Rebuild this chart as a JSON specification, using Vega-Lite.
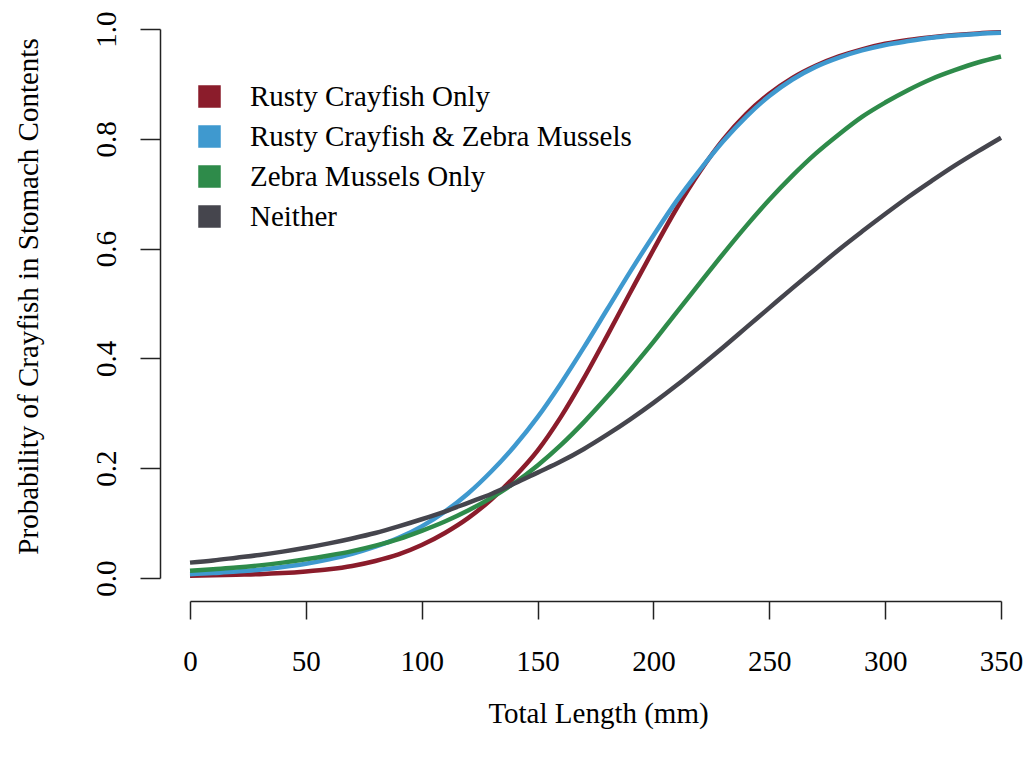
{
  "$schema": "https://vega.github.io/schema/vega-lite/v6.json",
  "autosize": "none",
  "width": 811,
  "height": 549,
  "padding": {"left": 190, "top": 29, "right": 30, "bottom": 179},
  "background": "white",
  "config": {
    "font": "Liberation Serif",
    "view": {"stroke": null},
    "axis": {"grid": false, "labelFont": "Liberation Serif", "titleFont": "Liberation Serif", "labelColor": "black", "titleColor": "black", "titleFontWeight": "normal", "domainColor": "#222", "tickColor": "#222", "domainWidth": 1.5, "tickWidth": 1.5}
  },
  "datasets": {
    "curves": [
      {"mm":0,"g":"Rusty Crayfish Only","p":0.004},{"mm":10,"g":"Rusty Crayfish Only","p":0.005},{"mm":20,"g":"Rusty Crayfish Only","p":0.006},{"mm":30,"g":"Rusty Crayfish Only","p":0.007},{"mm":40,"g":"Rusty Crayfish Only","p":0.009},{"mm":50,"g":"Rusty Crayfish Only","p":0.012},{"mm":60,"g":"Rusty Crayfish Only","p":0.016},{"mm":70,"g":"Rusty Crayfish Only","p":0.022},{"mm":80,"g":"Rusty Crayfish Only","p":0.031},{"mm":90,"g":"Rusty Crayfish Only","p":0.043},{"mm":100,"g":"Rusty Crayfish Only","p":0.060},{"mm":110,"g":"Rusty Crayfish Only","p":0.082},{"mm":120,"g":"Rusty Crayfish Only","p":0.109},{"mm":130,"g":"Rusty Crayfish Only","p":0.143},{"mm":140,"g":"Rusty Crayfish Only","p":0.184},{"mm":150,"g":"Rusty Crayfish Only","p":0.232},{"mm":160,"g":"Rusty Crayfish Only","p":0.293},{"mm":170,"g":"Rusty Crayfish Only","p":0.364},{"mm":180,"g":"Rusty Crayfish Only","p":0.441},{"mm":190,"g":"Rusty Crayfish Only","p":0.520},{"mm":200,"g":"Rusty Crayfish Only","p":0.598},{"mm":210,"g":"Rusty Crayfish Only","p":0.673},{"mm":220,"g":"Rusty Crayfish Only","p":0.740},{"mm":230,"g":"Rusty Crayfish Only","p":0.798},{"mm":240,"g":"Rusty Crayfish Only","p":0.845},{"mm":250,"g":"Rusty Crayfish Only","p":0.882},{"mm":260,"g":"Rusty Crayfish Only","p":0.911},{"mm":270,"g":"Rusty Crayfish Only","p":0.933},{"mm":280,"g":"Rusty Crayfish Only","p":0.950},{"mm":290,"g":"Rusty Crayfish Only","p":0.963},{"mm":300,"g":"Rusty Crayfish Only","p":0.973},{"mm":310,"g":"Rusty Crayfish Only","p":0.980},{"mm":320,"g":"Rusty Crayfish Only","p":0.985},{"mm":330,"g":"Rusty Crayfish Only","p":0.989},{"mm":340,"g":"Rusty Crayfish Only","p":0.992},{"mm":350,"g":"Rusty Crayfish Only","p":0.994},
      {"mm":0,"g":"Rusty Crayfish & Zebra Mussels","p":0.007},{"mm":10,"g":"Rusty Crayfish & Zebra Mussels","p":0.009},{"mm":20,"g":"Rusty Crayfish & Zebra Mussels","p":0.012},{"mm":30,"g":"Rusty Crayfish & Zebra Mussels","p":0.015},{"mm":40,"g":"Rusty Crayfish & Zebra Mussels","p":0.020},{"mm":50,"g":"Rusty Crayfish & Zebra Mussels","p":0.026},{"mm":60,"g":"Rusty Crayfish & Zebra Mussels","p":0.034},{"mm":70,"g":"Rusty Crayfish & Zebra Mussels","p":0.044},{"mm":80,"g":"Rusty Crayfish & Zebra Mussels","p":0.057},{"mm":90,"g":"Rusty Crayfish & Zebra Mussels","p":0.073},{"mm":100,"g":"Rusty Crayfish & Zebra Mussels","p":0.094},{"mm":110,"g":"Rusty Crayfish & Zebra Mussels","p":0.121},{"mm":120,"g":"Rusty Crayfish & Zebra Mussels","p":0.154},{"mm":130,"g":"Rusty Crayfish & Zebra Mussels","p":0.194},{"mm":140,"g":"Rusty Crayfish & Zebra Mussels","p":0.240},{"mm":150,"g":"Rusty Crayfish & Zebra Mussels","p":0.293},{"mm":160,"g":"Rusty Crayfish & Zebra Mussels","p":0.354},{"mm":170,"g":"Rusty Crayfish & Zebra Mussels","p":0.420},{"mm":180,"g":"Rusty Crayfish & Zebra Mussels","p":0.489},{"mm":190,"g":"Rusty Crayfish & Zebra Mussels","p":0.558},{"mm":200,"g":"Rusty Crayfish & Zebra Mussels","p":0.624},{"mm":210,"g":"Rusty Crayfish & Zebra Mussels","p":0.687},{"mm":220,"g":"Rusty Crayfish & Zebra Mussels","p":0.743},{"mm":230,"g":"Rusty Crayfish & Zebra Mussels","p":0.795},{"mm":240,"g":"Rusty Crayfish & Zebra Mussels","p":0.840},{"mm":250,"g":"Rusty Crayfish & Zebra Mussels","p":0.878},{"mm":260,"g":"Rusty Crayfish & Zebra Mussels","p":0.908},{"mm":270,"g":"Rusty Crayfish & Zebra Mussels","p":0.931},{"mm":280,"g":"Rusty Crayfish & Zebra Mussels","p":0.948},{"mm":290,"g":"Rusty Crayfish & Zebra Mussels","p":0.961},{"mm":300,"g":"Rusty Crayfish & Zebra Mussels","p":0.971},{"mm":310,"g":"Rusty Crayfish & Zebra Mussels","p":0.978},{"mm":320,"g":"Rusty Crayfish & Zebra Mussels","p":0.984},{"mm":330,"g":"Rusty Crayfish & Zebra Mussels","p":0.988},{"mm":340,"g":"Rusty Crayfish & Zebra Mussels","p":0.991},{"mm":350,"g":"Rusty Crayfish & Zebra Mussels","p":0.993},
      {"mm":0,"g":"Zebra Mussels Only","p":0.013},{"mm":10,"g":"Zebra Mussels Only","p":0.016},{"mm":20,"g":"Zebra Mussels Only","p":0.019},{"mm":30,"g":"Zebra Mussels Only","p":0.023},{"mm":40,"g":"Zebra Mussels Only","p":0.028},{"mm":50,"g":"Zebra Mussels Only","p":0.034},{"mm":60,"g":"Zebra Mussels Only","p":0.041},{"mm":70,"g":"Zebra Mussels Only","p":0.049},{"mm":80,"g":"Zebra Mussels Only","p":0.059},{"mm":90,"g":"Zebra Mussels Only","p":0.071},{"mm":100,"g":"Zebra Mussels Only","p":0.086},{"mm":110,"g":"Zebra Mussels Only","p":0.103},{"mm":120,"g":"Zebra Mussels Only","p":0.123},{"mm":130,"g":"Zebra Mussels Only","p":0.146},{"mm":140,"g":"Zebra Mussels Only","p":0.173},{"mm":150,"g":"Zebra Mussels Only","p":0.205},{"mm":160,"g":"Zebra Mussels Only","p":0.242},{"mm":170,"g":"Zebra Mussels Only","p":0.284},{"mm":180,"g":"Zebra Mussels Only","p":0.330},{"mm":190,"g":"Zebra Mussels Only","p":0.379},{"mm":200,"g":"Zebra Mussels Only","p":0.430},{"mm":210,"g":"Zebra Mussels Only","p":0.484},{"mm":220,"g":"Zebra Mussels Only","p":0.537},{"mm":230,"g":"Zebra Mussels Only","p":0.590},{"mm":240,"g":"Zebra Mussels Only","p":0.641},{"mm":250,"g":"Zebra Mussels Only","p":0.689},{"mm":260,"g":"Zebra Mussels Only","p":0.733},{"mm":270,"g":"Zebra Mussels Only","p":0.773},{"mm":280,"g":"Zebra Mussels Only","p":0.808},{"mm":290,"g":"Zebra Mussels Only","p":0.840},{"mm":300,"g":"Zebra Mussels Only","p":0.866},{"mm":310,"g":"Zebra Mussels Only","p":0.889},{"mm":320,"g":"Zebra Mussels Only","p":0.909},{"mm":330,"g":"Zebra Mussels Only","p":0.925},{"mm":340,"g":"Zebra Mussels Only","p":0.939},{"mm":350,"g":"Zebra Mussels Only","p":0.950},
      {"mm":0,"g":"Neither","p":0.028},{"mm":10,"g":"Neither","p":0.032},{"mm":20,"g":"Neither","p":0.037},{"mm":30,"g":"Neither","p":0.042},{"mm":40,"g":"Neither","p":0.048},{"mm":50,"g":"Neither","p":0.055},{"mm":60,"g":"Neither","p":0.063},{"mm":70,"g":"Neither","p":0.072},{"mm":80,"g":"Neither","p":0.082},{"mm":90,"g":"Neither","p":0.094},{"mm":100,"g":"Neither","p":0.107},{"mm":110,"g":"Neither","p":0.121},{"mm":120,"g":"Neither","p":0.137},{"mm":130,"g":"Neither","p":0.153},{"mm":140,"g":"Neither","p":0.172},{"mm":150,"g":"Neither","p":0.192},{"mm":160,"g":"Neither","p":0.212},{"mm":170,"g":"Neither","p":0.235},{"mm":180,"g":"Neither","p":0.261},{"mm":190,"g":"Neither","p":0.289},{"mm":200,"g":"Neither","p":0.319},{"mm":210,"g":"Neither","p":0.351},{"mm":220,"g":"Neither","p":0.385},{"mm":230,"g":"Neither","p":0.420},{"mm":240,"g":"Neither","p":0.456},{"mm":250,"g":"Neither","p":0.492},{"mm":260,"g":"Neither","p":0.528},{"mm":270,"g":"Neither","p":0.563},{"mm":280,"g":"Neither","p":0.598},{"mm":290,"g":"Neither","p":0.631},{"mm":300,"g":"Neither","p":0.663},{"mm":310,"g":"Neither","p":0.694},{"mm":320,"g":"Neither","p":0.723},{"mm":330,"g":"Neither","p":0.751},{"mm":340,"g":"Neither","p":0.777},{"mm":350,"g":"Neither","p":0.802}
    ]
  },
  "data": {"name": "curves"},
  "encoding": {
    "x": {"field": "mm", "type": "quantitative", "scale": {"domain": [0, 350], "nice": false, "zero": false},
      "axis": {"values": [0,50,100,150,200,250,300,350], "offset": 23, "tickSize": 18, "labelPadding": 28, "labelFontSize": 29, "labelBaseline": "top", "title": "Total Length (mm)", "titleFontSize": 29, "titleX": 408, "titleY": 121, "titleBaseline": "alphabetic", "titleAlign": "center", "labelFlush": false}},
    "y": {"field": "p", "type": "quantitative", "scale": {"domain": [0, 1], "nice": false},
      "axis": {"values": [0,0.2,0.4,0.6,0.8,1.0], "format": ".1f", "offset": 30, "tickSize": 20, "labelPadding": 25, "labelFontSize": 29, "labelAngle": -90, "labelAlign": "center", "labelBaseline": "alphabetic", "labelFlush": false, "title": "Probability of Crayfish in Stomach Contents", "titleFontSize": 29, "titleAngle": -90, "titleX": -123, "titleY": 267, "titleBaseline": "alphabetic", "titleAlign": "center"}},
    "color": {"field": "g", "type": "nominal",
      "scale": {"domain": ["Rusty Crayfish Only", "Rusty Crayfish & Zebra Mussels", "Zebra Mussels Only", "Neither"], "range": ["#8B1C2B", "#3F99CF", "#2E8B4A", "#45454D"]},
      "legend": {"orient": "none", "legendX": 5, "legendY": 53, "title": null, "symbolType": "square", "symbolSize": 441, "symbolStrokeWidth": 1.5, "symbolStrokeColor": "#111", "labelFontSize": 29, "labelFont": "Liberation Serif", "labelColor": "black", "labelOffset": 26, "rowPadding": 10, "labelLimit": 600,
        "encode": {"symbols": {"update": {"fill": {"scale": "color", "field": "value"}, "stroke": {"value": "#111"}, "strokeWidth": {"value": 1.5}, "opacity": {"value": 1}}}}}}
  },
  "layer": [
    {"transform": [{"filter": {"field": "g", "equal": "Rusty Crayfish Only"}}], "mark": {"type": "line", "strokeWidth": 4.5, "interpolate": "monotone"}},
    {"transform": [{"filter": {"field": "g", "equal": "Rusty Crayfish & Zebra Mussels"}}], "mark": {"type": "line", "strokeWidth": 4.5, "interpolate": "monotone"}},
    {"transform": [{"filter": {"field": "g", "equal": "Zebra Mussels Only"}}], "mark": {"type": "line", "strokeWidth": 4.5, "interpolate": "monotone"}},
    {"transform": [{"filter": {"field": "g", "equal": "Neither"}}], "mark": {"type": "line", "strokeWidth": 4.5, "interpolate": "monotone"}}
  ]
}
